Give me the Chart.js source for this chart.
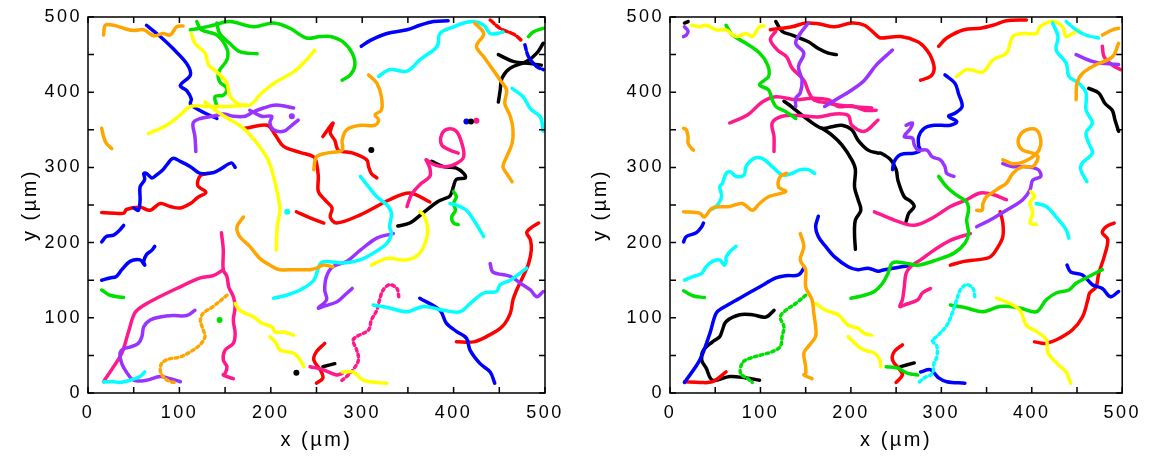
<!DOCTYPE html>
<html>
<head>
<meta charset="utf-8">
<script src="https://cdn.jsdelivr.net/npm/chart.js@4.4.0/dist/chart.umd.min.js"></script>
<style>
  body { margin: 0; background: #fff; }
  #wrap { position: relative; width: 1150px; height: 459px; }
  canvas { position: absolute; top: 0; }
</style>
</head>
<body>
<div id="wrap">
  <canvas id="left" width="575" height="459" style="left:0"></canvas>
  <canvas id="right" width="575" height="459" style="left:575px"></canvas>
</div>
<script>
// axes (µm)
const axisMin = 0, axisMax = 500, tickStep = 50;
const tickLabels = [0, 100, 200, 300, 400, 500];

// ---- left panel tracks, [x, y] in µm, grouped by colour ----
const leftRed = [
  [[172,352],[196,356],[205,343],[214,328],[232,320],[247,314],[250,306],[252,288],[252,268],[259,257],[267,246],[265,234],[272,226],[298,237],[330,257],[352,266],[374,254]],
  [[15,240],[39,239],[42,244],[57,247],[68,243],[79,252],[90,248],[101,246],[112,252],[120,260],[129,267],[120,276],[123,289],[131,292]],
  [[257,341],[268,359],[265,346],[270,336],[274,323],[290,319],[305,310],[307,301],[310,292],[316,286]],
  [[228,241],[243,233],[258,226]],
  [[259,66],[250,55],[247,44],[254,31],[257,20],[250,13]],
  [[403,68],[422,68],[436,75],[453,88],[462,106],[465,124],[469,137],[476,155],[482,172],[485,190],[484,204],[480,213],[484,219],[493,226]]
];
const leftRedDash = [[[440,496],[452,484],[466,477],[476,467]]];
const leftBlue = [
  [[64,489],[79,474],[93,458],[108,438],[112,423],[101,409],[108,402],[113,391],[112,384],[119,378],[130,371],[141,365]],
  [[161,300],[157,306],[144,297],[137,293],[123,292],[112,301],[101,308],[93,312],[86,303],[82,297],[75,290],[70,286],[64,292],[61,292],[62,284],[57,274],[57,256],[55,243],[50,246]],
  [[299,461],[309,469],[327,478],[349,483],[363,489],[378,494],[394,495]],
  [[15,201],[20,208],[28,210],[35,217],[39,223]],
  [[15,150],[24,153],[31,155],[37,164],[46,175],[57,177],[62,170],[61,175],[64,184],[70,190],[73,195]],
  [[363,126],[385,110],[392,93],[403,82],[414,73],[418,57],[429,39],[440,28],[445,13]]
];
const leftBlueDash = [[[478,463],[482,447],[491,434],[498,430]]];
const leftGreen = [
  [[112,483],[123,485],[137,489],[155,494],[181,487],[203,492],[221,485],[239,472],[254,474],[265,474],[279,467],[289,452],[292,436],[287,423],[278,416]],
  [[141,492],[144,478],[155,465],[166,454],[185,451]],
  [[119,494],[124,483],[141,476],[152,458],[152,443],[143,427],[144,414],[152,405],[148,396],[139,394],[141,381]],
  [[482,474],[487,480],[498,485]],
  [[400,268],[403,261],[400,252],[402,243],[398,234],[400,226],[405,224]],
  [[15,137],[24,130],[39,127]]
];
const leftYellow = [
  [[113,478],[117,465],[128,452],[132,436],[141,427],[152,412],[155,396],[164,385],[177,383],[190,399],[206,414],[225,427],[239,443],[248,456]],
  [[66,345],[86,356],[101,370],[112,381],[130,381],[155,381],[174,383]],
  [[128,387],[144,372],[170,352],[185,332],[197,310],[203,288],[208,261],[210,243],[207,221],[206,190]],
  [[310,170],[327,179],[349,177],[363,186],[371,208],[371,224],[367,237],[363,241]],
  [[161,119],[166,110],[181,101],[190,93],[201,88],[205,81],[214,81],[225,77]],
  [[199,75],[206,66],[210,57],[225,53],[232,44],[236,35]],
  [[278,28],[290,28],[301,17],[316,14],[327,13]]
];
const leftCyan = [
  [[318,421],[330,430],[349,428],[363,443],[382,461],[385,478],[400,487],[411,492],[422,494],[433,489],[440,478],[447,478],[454,480]],
  [[464,405],[476,394],[484,378],[495,367],[498,348]],
  [[298,288],[307,274],[316,261],[327,250],[332,239],[330,221],[332,212],[327,199],[312,186],[298,177],[279,173],[261,175],[254,172],[247,150],[232,137],[217,130],[203,126]],
  [[396,252],[403,250],[414,243],[422,230],[433,208]],
  [[17,15],[28,15],[35,14],[46,17],[57,22],[62,28]],
  [[312,117],[330,113],[349,108],[367,115],[389,110],[407,108],[418,119],[433,133],[447,135],[451,144],[462,150],[480,166]]
];
const leftOrange = [
  [[17,476],[19,489],[28,489],[39,485],[50,482],[61,483],[72,475],[82,478],[90,476],[97,487],[104,488]],
  [[15,352],[17,341],[20,332],[26,325]],
  [[307,423],[316,412],[321,394],[321,376],[314,370],[318,363],[314,356],[298,356],[283,350],[278,336],[278,323],[261,319],[250,314],[247,297]],
  [[423,492],[433,478],[425,461],[433,447],[443,430],[451,416],[458,403],[456,385],[462,368],[465,350],[464,332],[458,314],[454,301],[458,292],[464,281]],
  [[170,234],[163,221],[166,208],[177,195],[188,179],[199,170],[210,164],[225,164],[243,164],[250,166],[257,170],[268,168]]
];
const leftOrangeDots = [
  [[152,130],[137,115],[126,106],[123,97],[126,84],[128,75],[124,66],[115,57],[101,48],[88,45],[81,40],[79,31],[82,22],[90,15],[97,14]]
];
const leftPink = [
  [[17,15],[28,35],[37,53],[44,80],[51,106],[59,115],[75,126],[97,139],[123,153],[137,156],[148,164]],
  [[146,213],[148,191],[148,164],[152,155],[154,141],[159,128],[161,115],[159,97],[161,79],[159,66],[150,57],[148,44],[152,35],[150,26],[148,24],[159,19]],
  [[370,310],[380,303],[392,301],[403,305],[411,314],[409,332],[403,348],[394,351],[387,344],[387,330],[396,323],[405,319]],
  [[370,310],[374,299],[374,288],[363,277],[354,264],[349,248]],
  [[243,35],[257,31],[272,24],[278,26]]
];
const leftPinkDots = [
  [[340,128],[338,139],[330,144],[323,137],[319,124],[316,110],[310,97],[307,84],[294,75],[290,70],[294,57],[296,44],[290,31],[283,22],[276,15]]
];
const leftPurple = [
  [[225,379],[206,383],[192,379],[181,374],[172,368],[159,368],[148,371],[137,368],[123,365],[115,359],[117,341],[118,321]],
  [[177,376],[190,368],[201,368],[199,359],[203,350],[214,348],[223,356],[230,363]],
  [[117,110],[108,103],[93,103],[79,101],[68,97],[61,88],[59,75],[55,66],[46,61],[39,59],[35,53],[37,39],[42,28],[50,17],[64,17],[79,22],[90,19],[101,15]],
  [[334,212],[316,206],[298,190],[283,175],[268,168],[261,155],[259,137],[261,124],[252,113],[257,115],[272,121],[279,128],[289,139]],
  [[440,172],[443,161],[462,155],[473,146],[484,137],[491,128],[498,135]]
];
const leftBlack = [
  [[449,450],[465,441],[484,438],[496,436]],
  [[498,465],[491,452],[480,441],[462,432],[453,419],[451,403],[449,387]],
  [[376,308],[389,301],[403,299],[411,292],[413,286],[403,284],[400,275],[396,262],[389,258],[382,254],[367,240],[352,226],[339,222]],
  [[257,35],[270,39]]
];
const leftBlackSpots = [[310,323],[228,27],[419,361]];
const leftBlueSpots = [[414,361]];
const leftPinkSpots = [[425,362]];
const leftGreenSpots = [[144,97]];
const leftCyanSpots = [[218,241]];
const leftPurpleSpots = [[223,368]];

// ---- right panel tracks ----
const rightBlack = [
  [[126,388],[132,383],[138,377],[153,363],[168,352],[179,354],[190,356],[201,350],[208,336],[219,323],[230,319],[233,319],[244,310],[250,297],[252,283],[259,261],[266,255],[270,248],[264,239],[261,228]],
  [[168,352],[179,343],[190,330],[201,310],[205,297],[204,274],[208,257],[211,243],[205,230],[204,212],[205,191]],
  [[117,494],[124,481],[135,476],[153,467],[164,458],[175,452],[184,450]],
  [[16,492],[20,494]],
  [[463,405],[474,399],[481,385],[489,376],[492,363],[496,348]],
  [[115,110],[106,101],[91,104],[77,104],[62,95],[58,84],[55,75],[47,68],[37,57],[35,44],[40,33],[47,17],[66,22],[84,20],[99,17]],
  [[255,35],[270,40]]
];
const rightPurple = [
  [[16,487],[20,481],[18,476],[15,474]],
  [[153,492],[144,478],[139,465],[148,452],[142,434],[146,416],[144,399],[139,392],[139,381]],
  [[171,381],[186,392],[201,403],[215,416],[228,436],[246,456]],
  [[261,356],[268,359],[266,352],[259,341],[268,339],[270,330],[274,323],[284,323],[290,314],[299,310],[304,301],[306,292],[314,288]],
  [[449,450],[467,441],[481,438],[496,437]],
  [[368,305],[379,301],[394,301],[407,297],[410,288],[401,283],[398,270],[390,257],[379,248],[372,243],[357,232],[339,221]]
];
const rightYellow = [
  [[24,489],[33,487],[40,489],[51,483],[62,483],[73,474],[84,478],[91,474],[99,487],[104,488]],
  [[317,421],[328,430],[346,427],[357,443],[372,452],[379,474],[390,478],[405,478],[409,487],[423,494],[434,487],[438,474],[445,478],[452,483]],
  [[399,268],[403,261],[398,254],[399,248],[401,239],[398,226],[405,224]],
  [[161,119],[172,110],[186,104],[197,90],[208,86],[215,79],[223,77]],
  [[197,75],[208,62],[215,57],[226,53],[232,44],[233,35]],
  [[361,126],[376,119],[387,110],[394,90],[405,82],[416,71],[418,53],[430,37],[438,28],[443,13]]
];
const rightGreen = [
  [[62,489],[69,476],[84,465],[99,452],[108,436],[109,421],[99,410],[109,403],[113,390],[117,381],[128,374],[139,365]],
  [[297,288],[306,274],[317,263],[328,254],[330,243],[328,230],[330,212],[326,199],[314,186],[295,177],[274,170],[259,173],[246,173],[241,159],[235,146],[226,135],[215,130],[200,126]],
  [[15,136],[26,129],[38,127]],
  [[310,117],[328,113],[346,108],[365,115],[387,113],[405,108],[416,124],[427,133],[441,137],[449,146],[460,153],[478,164]],
  [[239,35],[252,33],[263,26],[274,24]]
];
const rightGreenDots = [
  [[150,130],[139,119],[128,110],[122,101],[126,88],[124,75],[122,62],[113,55],[102,51],[88,46],[80,40],[78,26],[86,19],[91,14]]
];
const rightRed = [
  [[111,483],[135,487],[150,492],[164,491],[182,487],[201,492],[215,489],[230,474],[233,472],[255,474],[274,467],[284,456],[290,443],[292,430],[288,421],[277,416]],
  [[297,461],[306,472],[325,483],[343,485],[357,489],[372,495],[394,496]],
  [[16,15],[33,14],[47,15],[62,28]],
  [[365,241],[368,226],[368,208],[363,195],[354,181],[339,177],[325,175],[310,170]],
  [[403,68],[416,66],[431,73],[445,84],[456,101],[462,124],[464,133],[471,141],[474,159],[480,181],[484,204],[478,213],[482,221],[491,226]],
  [[257,64],[248,55],[246,44],[254,31],[257,24],[250,14]]
];
const rightBlue = [
  [[304,423],[315,412],[319,398],[323,381],[315,372],[308,368],[317,361],[310,356],[292,356],[281,352],[275,341],[275,328],[277,323],[270,319],[255,317],[248,308],[246,297]],
  [[15,201],[18,208],[29,213],[35,221],[37,226]],
  [[16,14],[33,44],[44,79],[51,106],[58,113],[77,126],[99,141],[117,153],[128,156],[142,157],[148,166]],
  [[164,235],[161,221],[164,208],[172,195],[182,181],[197,168],[208,164],[219,166],[230,162],[237,164],[266,170]],
  [[439,170],[443,161],[456,157],[467,144],[478,139],[487,128],[496,135]],
  [[277,28],[288,31],[297,20],[306,15],[326,13]]
];
const rightCyan = [
  [[160,292],[153,297],[144,297],[135,292],[124,290],[113,301],[102,312],[93,312],[84,301],[82,290],[73,288],[67,294],[62,292],[58,279],[55,274],[57,261],[51,248],[44,243]],
  [[16,150],[26,155],[35,159],[40,168],[47,175],[55,177],[60,170],[62,175],[62,181],[68,190],[73,195]],
  [[423,492],[429,474],[427,456],[438,439],[441,421],[452,412],[460,399],[460,376],[467,359],[460,346],[463,332],[467,319],[456,306],[454,297],[461,281]],
  [[405,252],[416,248],[427,234],[438,217],[441,206]]
];
const rightCyanDash = [[[438,494],[449,483],[460,476],[474,472]]];
const rightCyanDots = [
  [[337,128],[335,139],[328,144],[321,137],[317,124],[312,106],[306,90],[295,75],[290,70],[295,62],[295,48],[292,40],[290,26],[281,20],[274,13]]
];
const rightOrange = [
  [[15,352],[18,350],[20,341],[20,332],[24,325],[26,323]],
  [[129,292],[122,288],[120,274],[128,268],[109,261],[99,252],[91,243],[80,252],[66,248],[47,246],[38,234],[33,239],[15,241]],
  [[478,476],[489,483],[496,485]],
  [[496,465],[489,447],[470,436],[456,425],[450,412],[449,390]],
  [[368,310],[379,305],[390,307],[401,314],[408,323],[410,336],[405,350],[394,350],[387,343],[385,332],[390,323],[401,319],[407,314],[401,301],[390,301],[379,292],[372,279],[363,272],[356,266],[350,261],[346,252],[345,243],[339,243]],
  [[144,212],[148,195],[144,177],[150,164],[150,141],[157,124],[159,106],[161,88],[161,75],[153,62],[148,53],[150,35],[150,26],[148,24],[157,19]]
];
const rightPink = [
  [[117,481],[111,470],[119,456],[129,447],[135,432],[148,416],[153,401],[159,390],[172,386],[186,383],[201,381],[223,379]],
  [[66,359],[86,370],[102,387],[117,394],[139,390],[157,392],[175,390],[186,381],[201,382],[215,376],[228,376]],
  [[115,321],[115,341],[113,359],[124,368],[142,369],[164,367],[182,371],[197,369],[201,356],[215,348],[230,363]],
  [[226,241],[248,230],[270,223],[292,234],[310,248],[328,257],[343,266],[357,264],[372,257]],
  [[332,212],[310,203],[292,190],[277,177],[266,168],[261,159],[259,141],[257,124],[254,115],[259,117],[274,124],[279,133],[288,139]],
  [[478,461],[480,447],[489,436],[498,430]]
];

const colours = {
  red: '#ff0000', blue: '#0000ff', green: '#00e000', yellow: '#ffff00',
  cyan: '#00ffff', orange: '#ffa500', pink: '#ff1a8c', purple: '#9933ff', black: '#000000'
};

const fontFamily = '"Liberation Sans", Arial, sans-serif';

function buildSets(entries) {
  const sets = [];
  entries.forEach(([tracks, colour, style]) => {
    if (style === 'spot') {
      sets.push({
        data: tracks.map(([x, y]) => ({x, y})),
        showLine: false, pointRadius: 3, pointBorderWidth: 0,
        backgroundColor: colour, borderColor: colour
      });
      return;
    }
    tracks.forEach(t => sets.push({
      data: t.map(([x, y]) => ({x, y})),
      showLine: true,
      borderColor: colour,
      backgroundColor: colour,
      borderWidth: 3.5,
      borderCapStyle: 'round',
      borderJoinStyle: 'round',
      borderDash: style === 'dash' ? [5, 3] : style === 'dot' ? [2.5, 3.5] : [],
      pointRadius: 0,
      tension: 0.35
    }));
  });
  return sets;
}

const frame = {
  id: 'frame',
  beforeUpdate(chart) { chart.ctx.letterSpacing = '2.5px'; },
  beforeDraw(chart) { chart.ctx.letterSpacing = '2.5px'; },
  afterDraw(chart) {
    const {ctx, chartArea: a, scales: {x, y}} = chart;
    ctx.save();
    ctx.strokeStyle = '#000';
    ctx.lineWidth = 1.5;
    ctx.strokeRect(a.left, a.top, a.right - a.left, a.bottom - a.top);
    ctx.beginPath();
    for (let v = axisMin; v <= axisMax; v += tickStep) {
      const px = x.getPixelForValue(v), py = y.getPixelForValue(v);
      ctx.moveTo(px, a.bottom); ctx.lineTo(px, a.bottom - 6);
      ctx.moveTo(px, a.top); ctx.lineTo(px, a.top + 6);
      ctx.moveTo(a.left, py); ctx.lineTo(a.left + 6, py);
      ctx.moveTo(a.right, py); ctx.lineTo(a.right - 6, py);
    }
    ctx.stroke();
    ctx.restore();
  }
};

function makeChart(id, entries, yWidth, padRight, yTitlePad) {
  const tickOpts = {
    stepSize: tickStep, autoSkip: false, maxRotation: 0, color: '#000',
    font: {family: fontFamily, size: 18},
    callback: v => tickLabels.includes(v) ? String(v) : ''
  };
  return new Chart(document.getElementById(id), {
    type: 'scatter',
    data: {datasets: buildSets(entries)},
    options: {
      responsive: false,
      animation: false,
      layout: {padding: {top: 17, right: padRight, left: 0, bottom: 0}},
      plugins: {legend: {display: false}, tooltip: {enabled: false}},
      scales: {
        x: {
          type: 'linear', min: axisMin, max: axisMax,
          grid: {display: false, drawTicks: false}, border: {display: false},
          ticks: Object.assign({padding: 9}, tickOpts),
          title: {display: true, text: 'x (µm)', color: '#000',
                  font: {family: fontFamily, size: 20}, padding: {top: 0, bottom: 7}},
          afterFit(s) { s.height = 66; }
        },
        y: {
          type: 'linear', min: axisMin, max: axisMax,
          grid: {display: false, drawTicks: false}, border: {display: false},
          ticks: Object.assign({padding: 6}, tickOpts),
          title: {display: true, text: 'y (µm)', color: '#000',
                  font: {family: fontFamily, size: 20}, padding: {top: yTitlePad, bottom: 0}},
          afterFit(s) { s.width = yWidth; }
        }
      }
    },
    plugins: [frame]
  });
}

makeChart('left', [
  [leftOrange, colours.orange], [leftOrangeDots, colours.orange, 'dot'],
  [leftCyan, colours.cyan], [leftYellow, colours.yellow],
  [leftGreen, colours.green], [leftPurple, colours.purple],
  [leftPink, colours.pink], [leftPinkDots, colours.pink, 'dot'],
  [leftBlue, colours.blue], [leftBlueDash, colours.blue, 'dash'],
  [leftRed, colours.red], [leftRedDash, colours.red, 'dash'],
  [leftBlack, colours.black],
  [leftBlackSpots, colours.black, 'spot'], [leftBlueSpots, colours.blue, 'spot'],
  [leftPinkSpots, colours.pink, 'spot'], [leftGreenSpots, colours.green, 'spot'],
  [leftCyanSpots, colours.cyan, 'spot'], [leftPurpleSpots, colours.purple, 'spot']
], 88, 30, 18);

makeChart('right', [
  [rightOrange, colours.orange],
  [rightCyan, colours.cyan], [rightCyanDash, colours.cyan, 'dash'], [rightCyanDots, colours.cyan, 'dot'],
  [rightYellow, colours.yellow],
  [rightGreen, colours.green], [rightGreenDots, colours.green, 'dot'],
  [rightPurple, colours.purple], [rightPink, colours.pink],
  [rightBlue, colours.blue], [rightRed, colours.red],
  [rightBlack, colours.black]
], 95, 23, 13);
</script>
</body>
</html>
